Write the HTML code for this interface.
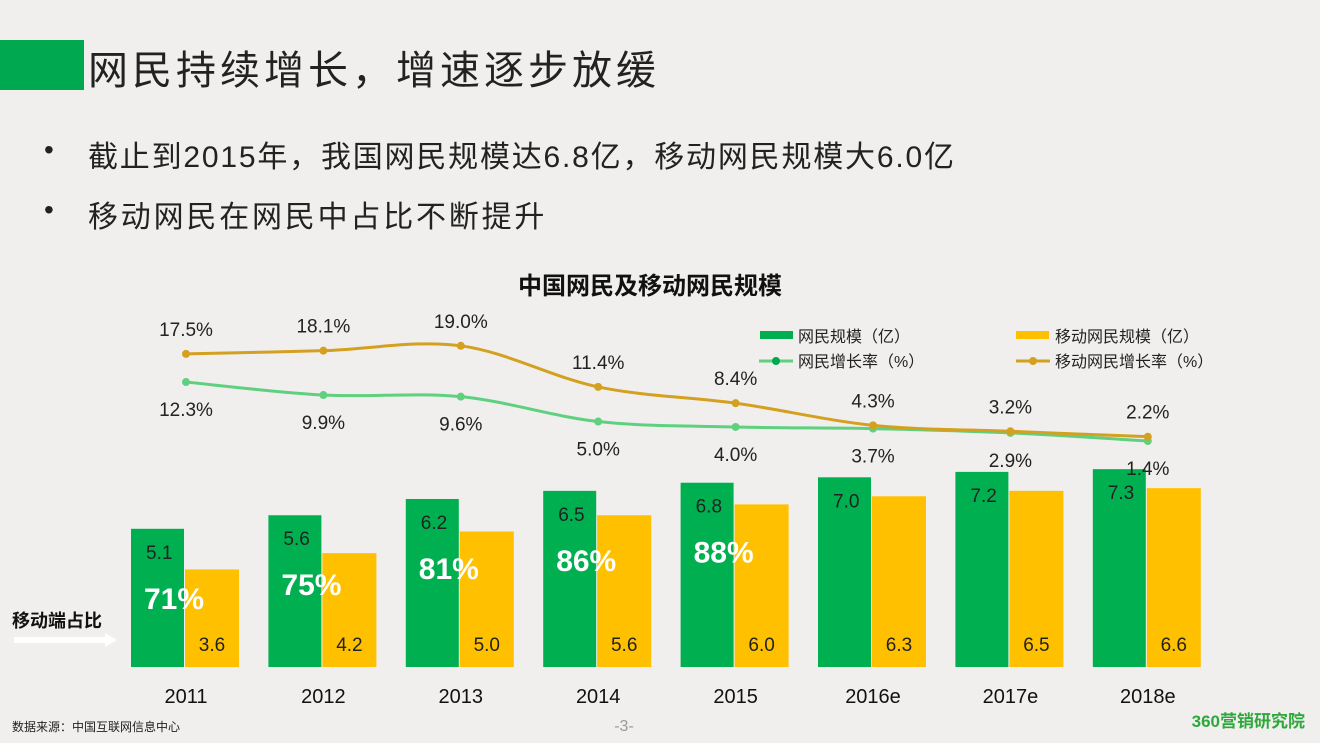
<!DOCTYPE html>
<html><head><meta charset="utf-8"><style>
body{margin:0;width:1320px;height:743px;background:#f0efed;overflow:hidden;font-family:"Liberation Sans","Noto Sans CJK SC",sans-serif;position:relative}
.t{position:absolute;white-space:nowrap}
</style></head><body>
<div style="position:absolute;left:0;top:40px;width:84px;height:50px;background:#00a84f"></div>
<div class="t" style="left:88px;top:38px;font-size:40px;letter-spacing:4px;color:#222">网民持续增长，增速逐步放缓</div>
<div class="t" style="left:44px;top:134px;font-size:28px;color:#222">•</div>
<div class="t" style="left:88px;top:132px;font-size:30px;letter-spacing:1.8px;color:#222">截止到2015年，我国网民规模达6.8亿，移动网民规模大6.0亿</div>
<div class="t" style="left:44px;top:194px;font-size:28px;color:#222">•</div>
<div class="t" style="left:88px;top:192px;font-size:30px;letter-spacing:2.8px;color:#222">移动网民在网民中占比不断提升</div>
<svg id="c" width="1320" height="743" style="position:absolute;left:0;top:0"></svg>
<script>
const years=["2011","2012","2013","2014","2015","2016e","2017e","2018e"];
const netUsers=[5.1,5.6,6.2,6.5,6.8,7.0,7.2,7.3];
const mobileUsers=[3.6,4.2,5.0,5.6,6.0,6.3,6.5,6.6];
const netGrowth=[12.3,9.9,9.6,5.0,4.0,3.7,2.9,1.4];
const mobileGrowth=[17.5,18.1,19.0,11.4,8.4,4.3,3.2,2.2];
const mobileShare=["71%","75%","81%","86%","88%","","",""];
const svg=document.getElementById('c');const NS='http://www.w3.org/2000/svg';
function el(t,a,p){const e=document.createElementNS(NS,t);for(const k in a)e.setAttribute(k,a[k]);(p||svg).appendChild(e);return e;}
function txt(s,x,y,a){const e=el('text',Object.assign({x:x,y:y,'font-family':'Liberation Sans, Noto Sans CJK SC, sans-serif'},a));e.textContent=s;return e;}
const xc=i=>186+i*137.4;
const yb=v=>667-v*27.1;
const yl=v=>448.6-v*5.41;
const t0=txt('中国网民及移动网民规模',650,294,{'font-size':24,'font-weight':'bold','text-anchor':'middle',fill:'#111'});


years.forEach((y,i)=>{
 const c=xc(i);
 const g=el('rect',{x:c-55,y:yb(netUsers[i]),width:53,height:667-yb(netUsers[i]),fill:'#00b050'});
 
 
 const m=el('rect',{x:c-1,y:yb(mobileUsers[i]),width:54,height:667-yb(mobileUsers[i]),fill:'#ffc000'});
 
 
 txt(netUsers[i].toFixed(1),c-40,yb(netUsers[i])+30,{'font-size':19,fill:'#222'});
 txt(mobileUsers[i].toFixed(1),c+26,651,{'font-size':19,fill:'#222','text-anchor':'middle'});
 txt(y,c,703,{'font-size':20,fill:'#111','text-anchor':'middle'});
 if(mobileShare[i]){const s=txt(mobileShare[i],c-42,yb(netUsers[i])+80,{'font-size':30,'font-weight':'bold',fill:'#fff'});
 
 }
});
function path(vals,color,name,above){
 const p=vals.map((v,i)=>[xc(i),yl(v)]);
 let d='M'+p[0][0]+','+p[0][1];
 for(let i=0;i<p.length-1;i++){const p0=p[Math.max(i-1,0)],p1=p[i],p2=p[i+1],p3=p[Math.min(i+2,p.length-1)];
  d+=' C'+(p1[0]+(p2[0]-p0[0])/6)+','+(p1[1]+(p2[1]-p0[1])/6)+' '+(p2[0]-(p3[0]-p1[0])/6)+','+(p2[1]-(p3[1]-p1[1])/6)+' '+p2[0]+','+p2[1];}
 const l=el('path',{d:d,fill:'none',stroke:color,'stroke-width':3});
 
 
 p.forEach((q,i)=>{el('circle',{cx:q[0],cy:q[1],r:4,fill:color});
  txt(vals[i].toFixed(1)+'%',q[0],above?q[1]-18:q[1]+34,{'font-size':19,fill:'#222','text-anchor':'middle'});});
}
path(netGrowth,'#5fd07f','line-net-growth',false);
path(mobileGrowth,'#d4a020','line-mobile-growth',true);
el('rect',{x:760,y:331,width:33,height:8,fill:'#00b050'});txt('网民规模（亿）',798,342,{'font-size':16,fill:'#222'});
el('rect',{x:1016,y:331,width:33,height:8,fill:'#ffc000'});txt('移动网民规模（亿）',1055,342,{'font-size':16,fill:'#222'});
el('line',{x1:759,y1:361,x2:793,y2:361,stroke:'#5fd07f','stroke-width':3});el('circle',{cx:776,cy:361,r:4,fill:'#00a84f'});
txt('网民增长率（%）',798,367,{'font-size':16,fill:'#222'});
el('line',{x1:1016,y1:361,x2:1050,y2:361,stroke:'#d4a020','stroke-width':3});el('circle',{cx:1033,cy:361,r:4,fill:'#d4a020'});
txt('移动网民增长率（%）',1055,367,{'font-size':16,fill:'#222'});
txt('移动端占比',12,627,{'font-size':18,'font-weight':'bold',fill:'#111'});
el('path',{d:'M14,637 L105,637 L105,633 L117,640 L105,647 L105,643 L14,643 Z',fill:'#fff'});
txt('数据来源：中国互联网信息中心',12,731,{'font-size':12,fill:'#222'});
txt('-3-',624,731,{'font-size':16,fill:'#999','text-anchor':'middle'});
txt('360营销研究院',1305,727,{'font-size':17,'font-weight':'bold',fill:'#2da83a','text-anchor':'end'});
</script>
</body></html>
